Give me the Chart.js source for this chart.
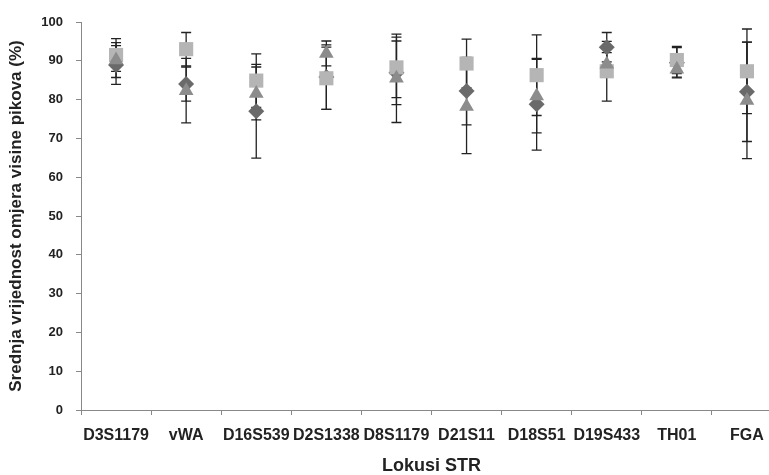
<!DOCTYPE html>
<html>
  <head>
    <meta charset="utf-8">
    <script src="https://cdn.jsdelivr.net/npm/chart.js@4.4.0/dist/chart.umd.min.js"></script>
    <style>
      body { margin: 0; overflow: hidden; background: #fff; }
    </style>
  </head>
  <body>
    <canvas id="output" width="800" height="475"></canvas>

    <script>
      // Data
      var loci = ['D3S1179', 'vWA', 'D16S539', 'D2S1338', 'D8S1179', 'D21S11', 'D18S51', 'D19S433', 'TH01', 'FGA'];

      var diamondMeans = [88.9, 84.0, 77.0, 85.8, 86.9, 82.2, 78.8, 93.5, 89.5, 82.0];
      var diamondErr   = [5.0, 4.4, 12.1, 8.3, 8.2, 8.7, 11.8, 3.8, 3.9, 12.8];

      var triangleMeans = [90.2, 82.3, 81.6, 91.9, 85.5, 78.2, 80.9, 89.1, 87.8, 79.8];
      var triangleErr   = [4.5, 8.3, 6.8, 3.2, 11.4, 12.1, 9.5, 3.0, 2.0, 15.0];

      var squareMeans = [91.5, 93.0, 84.9, 85.5, 88.3, 89.3, 86.3, 87.3, 90.2, 87.3];
      var squareErr   = [4.2, 4.3, 6.9, 8.0, 7.8, 6.3, 10.4, 7.7, 3.5, 10.9];

      var yTicks = [0, 10, 20, 30, 40, 50, 60, 70, 80, 90, 100];

      var fontFamily = '"Liberation Sans", Arial, sans-serif';

      // draws the whiskers under the markers
      var errorBars = {
        id: 'errorBars',
        beforeDatasetsDraw: function(chart) {
          var ctx = chart.ctx;
          var y = chart.scales.y;
          ctx.save();
          ctx.strokeStyle = '#222';
          ctx.lineWidth = 1.3;
          chart.data.datasets.forEach(function(ds, i) {
            var meta = chart.getDatasetMeta(i);
            meta.data.forEach(function(pt, j) {
              var v = ds.data[j], e = ds.errors[j];
              var top = y.getPixelForValue(v + e);
              var bot = y.getPixelForValue(v - e);
              ctx.beginPath();
              ctx.moveTo(pt.x, top); ctx.lineTo(pt.x, bot);
              ctx.moveTo(pt.x - 5, top); ctx.lineTo(pt.x + 5, top);
              ctx.moveTo(pt.x - 5, bot); ctx.lineTo(pt.x + 5, bot);
              ctx.stroke();
            });
          });
          ctx.restore();
        }
      };

      var ctx = document.getElementById('output').getContext('2d');
      var myChart = new Chart(ctx, {
        type: 'line',
        data: {
          labels: loci,
          datasets: [{
            data: triangleMeans,
            errors: triangleErr,
            showLine: false,
            pointStyle: 'triangle',
            pointRadius: 8.5,
            backgroundColor: '#8c8c8c',
            borderColor: '#8c8c8c',
            pointBorderWidth: 0,
            order: 0
          }, {
            data: squareMeans,
            errors: squareErr,
            showLine: false,
            pointStyle: 'rect',
            pointRadius: 10,
            backgroundColor: '#b5b5b5',
            borderColor: '#b5b5b5',
            pointBorderWidth: 0,
            order: 1
          }, {
            data: diamondMeans,
            errors: diamondErr,
            showLine: false,
            pointStyle: 'rectRot',
            pointRadius: 8,
            backgroundColor: '#6a6a6a',
            borderColor: '#6a6a6a',
            pointBorderWidth: 0,
            order: 2
          }]
        },
        options: {
          responsive: false,
          animation: false,
          layout: { padding: { top: 22, right: 18, left: 0, bottom: 0 } },
          plugins: {
            legend: { display: false },
            tooltip: { enabled: false }
          },
          scales: {
            x: {
              type: 'category',
              offset: true,
              grid: { offset: true, drawOnChartArea: false, tickLength: 5, color: '#888' },
              border: { color: '#888' },
              ticks: {
                autoSkip: false,
                maxRotation: 0,
                padding: 11,
                color: '#222',
                font: { family: fontFamily, size: 16, weight: 'bold' }
              },
              title: {
                display: true,
                text: 'Lokusi STR',
                color: '#222',
                padding: 0,
                font: { family: fontFamily, size: 18, weight: 'bold', lineHeight: 1 }
              },
              afterFit: function(s) { s.height = 65; }
            },
            y: {
              min: 0,
              max: 100,
              afterBuildTicks: function(s) {
                s.ticks = yTicks.map(function(v) { return { value: v }; });
              },
              grid: { drawOnChartArea: false, tickLength: 5, color: '#888' },
              border: { color: '#888' },
              ticks: {
                padding: 13,
                color: '#222',
                font: { family: fontFamily, size: 13, weight: 'bold' }
              },
              title: {
                display: true,
                text: 'Srednja vrijednost omjera visine pikova (%)',
                color: '#222',
                padding: { top: 8, bottom: 0 },
                font: { family: fontFamily, size: 17, weight: 'bold', lineHeight: 1 }
              },
              afterFit: function(s) { s.width = 81; }
            }
          }
        },
        plugins: [errorBars]
      });
    </script>
  </body>
</html>
